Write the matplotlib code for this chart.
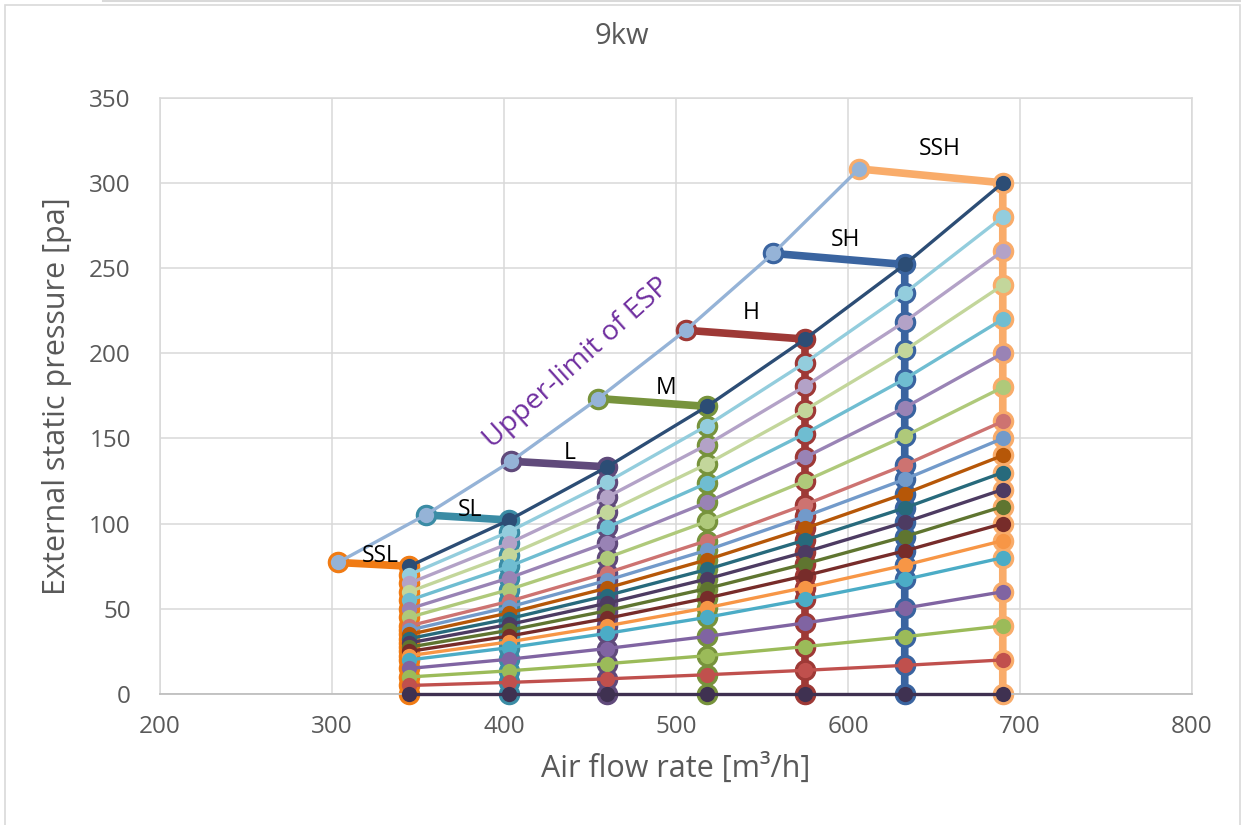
import matplotlib
matplotlib.use("Agg")
import matplotlib.pyplot as plt
from matplotlib.patches import Rectangle
from matplotlib.lines import Line2D

plt.rcParams['font.family'] = ['Open Sans', 'DejaVu Sans']

# ---- data ----
speed_names = ['SSL', 'SL', 'L', 'M', 'H', 'SH', 'SSH']
speed_x = [345, 403, 460, 518, 575, 633, 690]          # air flow of each fan speed
upper_x = [303.5, 354.4, 404.1, 454.8, 505.7, 556.5, 606.3]   # upper limit of ESP
upper_y = [77.2, 105.1, 136.6, 173.4, 213.5, 258.6, 308.2]

# ESP of each resistance curve at the seven speeds (top curve first)
esp_300 = [75, 102.1, 133.3, 168.8, 208.3, 252.1, 300]
esp_280 = [70, 95.3, 124.4, 157.5, 194.4, 235.3, 280]
esp_260 = [65, 88.5, 115.6, 146.3, 180.6, 218.5, 260]
esp_240 = [60, 81.7, 106.7, 135, 166.7, 201.7, 240]
esp_220 = [55, 74.9, 97.8, 123.8, 152.8, 184.9, 220]
esp_200 = [50, 68.1, 88.9, 112.5, 138.9, 168.1, 200]
esp_180 = [45, 61.3, 80, 101.3, 125, 151.3, 180]
esp_160 = [40, 54.4, 71.1, 90, 111.1, 134.4, 160]
esp_150 = [37.5, 51, 66.7, 84.4, 104.2, 126, 150]
esp_140 = [35, 47.6, 62.2, 78.8, 97.2, 117.6, 140]
esp_130 = [32.5, 44.2, 57.8, 73.1, 90.3, 109.2, 130]
esp_120 = [30, 40.8, 53.3, 67.5, 83.3, 100.8, 120]
esp_110 = [27.5, 37.4, 48.9, 61.9, 76.4, 92.4, 110]
esp_100 = [25, 34, 44.4, 56.3, 69.4, 84, 100]
esp_90 = [22.5, 30.6, 40, 50.6, 62.5, 75.6, 90]
esp_80 = [20, 27.2, 35.6, 45, 55.6, 67.2, 80]
esp_60 = [15, 20.4, 26.7, 33.8, 41.7, 50.4, 60]
esp_40 = [10, 13.6, 17.8, 22.5, 27.8, 33.6, 40]
esp_20 = [5, 6.8, 8.9, 11.3, 13.9, 16.8, 20]
esp_0 = [0, 0, 0, 0, 0, 0, 0]

curves = [esp_300, esp_280, esp_260, esp_240, esp_220, esp_200, esp_180,
          esp_160, esp_150, esp_140, esp_130, esp_120, esp_110, esp_100,
          esp_90, esp_80, esp_60, esp_40, esp_20, esp_0]

curve_colors = ['#2C4D75', '#93CDDD', '#B3A2C7', '#C3D69B', '#6FBDD1', '#9983B5',
                '#AFC97A', '#CD7371', '#729ACA', '#B65708', '#276A7C', '#4D3B62',
                '#5F7530', '#772C2A', '#F79646', '#4BACC6', '#8064A2', '#9BBB59',
                '#C0504D', '#3F3151']
speed_colors = ['#F07B14', '#3B8CA5', '#604A7B', '#77933C', '#9E3936', '#3A64A0', '#F9AC6A']
upper_color = '#95B3D7'
grey = '#595959'

fig = plt.figure(figsize=(12.41, 8.25), dpi=100)
ax = fig.add_axes([0.1289, 0.1588, 0.8316, 0.7228])

# chart area border
fig.patches.append(Rectangle((5 / 1241, -0.01), 1235 / 1241, 1 - 5 / 825 + 0.01,
                             transform=fig.transFigure, fill=False,
                             edgecolor='#D9D9D9', lw=1.2))
fig.lines.append(Line2D([103 / 1241, 1], [0.999, 0.999], transform=fig.transFigure,
                        color='#D9D9D9', lw=1.5))

# speed lines: segment from upper limit + vertical down through all curves
for j in range(len(speed_x)):
    xs = [upper_x[j]] + [speed_x[j]] * len(curves)
    ys = [upper_y[j]] + [c[j] for c in curves]
    ax.plot(xs, ys, color=speed_colors[j], lw=5.5, marker='o', ms=14.5,
            mfc=speed_colors[j], mec=speed_colors[j], clip_on=False, zorder=2,
            solid_capstyle='butt')

# resistance curves
for c, col in zip(curves, curve_colors):
    ax.plot(speed_x, c, color=col, lw=2.4, marker='o', ms=11, mfc=col,
            mec='none', clip_on=False, zorder=3)

# upper limit of ESP
ax.plot(upper_x, upper_y, color=upper_color, lw=2.4, marker='o', ms=11,
        mfc=upper_color, mec='none', clip_on=False, zorder=4)

# labels of speeds
label_pos = [(328.3, 81.2), (380, 108.2), (438, 141.2), (494.3, 179.4),
             (543.6, 223.5), (598.8, 266.5), (653.3, 320)]
for name, (lx, ly) in zip(speed_names, label_pos):
    ax.text(lx, ly, name, fontsize=16.5, color='black', ha='center', va='center', zorder=5)
ax.text(442.6, 194.1, 'Upper-limit of ESP', fontsize=20.5, color='#7030A0',
        rotation=42, ha='center', va='center', rotation_mode='anchor', zorder=5)

ax.set_xlim(200, 800)
ax.set_ylim(0, 350)
ax.set_xticks(range(200, 801, 100))
ax.set_yticks(range(0, 351, 50))
ax.grid(True, color='#D9D9D9', lw=1.1)
ax.set_axisbelow(True)
for s in ['top', 'right', 'left']:
    ax.spines[s].set_color('#D9D9D9')
    ax.spines[s].set_linewidth(1.1)
ax.spines['bottom'].set_color('#BFBFBF')
ax.spines['bottom'].set_linewidth(1.3)
ax.tick_params(axis='both', length=0, labelsize=17.5, labelcolor=grey)
ax.tick_params(axis='y', pad=21)
ax.tick_params(axis='x', pad=15)

ax.set_xlabel('Air flow rate [m³/h]', fontsize=22, color=grey, labelpad=10)
ax.set_ylabel('External static pressure [pa]', fontsize=22, color=grey, labelpad=12)
fig.text(622 / 1241, 1 - 37 / 825, '9kw', fontsize=21, color=grey, ha='center', va='center')

fig.savefig('out.png', dpi=100)
